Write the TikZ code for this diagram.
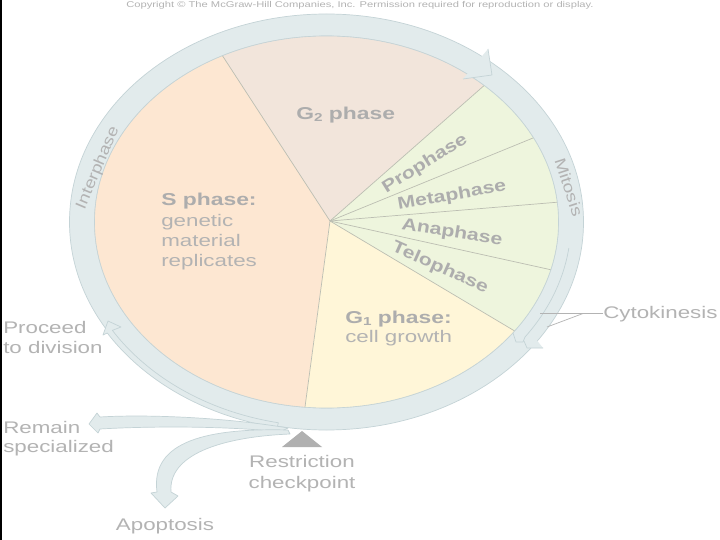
\documentclass[tikz,border=0pt]{standalone}
\usepackage{fontspec}
\setmainfont{Liberation Sans}
\usetikzlibrary{calc}
\definecolor{ringfill}{HTML}{E2EBEC}
\definecolor{ringline}{HTML}{C4D3D6}
\definecolor{sfill}{HTML}{FDE7D2}
\definecolor{gtwofill}{HTML}{F2E5DB}
\definecolor{mfill}{HTML}{EEF5DD}
\definecolor{gonefill}{HTML}{FFF6D8}
\definecolor{secline}{HTML}{BCBEB2}
\definecolor{txtgray}{HTML}{B3B3B3}
\definecolor{btxtgray}{HTML}{ADADAD}
\definecolor{trigray}{HTML}{B0B0B0}
\begin{document}
\begin{tikzpicture}[x=1pt,y=-1pt,
  lbl/.style={text=txtgray, font=\fontsize{16.8}{20}\selectfont, inner sep=0pt, xscale=1.33},
  blbl/.style={text=btxtgray, font=\fontsize{17.2}{20}\selectfont\bfseries, inner sep=0pt, xscale=1.33},
  rlbl/.style={text=txtgray, font=\fontsize{15.5}{18}\selectfont, inner sep=0pt},
  rblbl/.style={text=btxtgray, font=\fontsize{17}{20}\selectfont\bfseries, inner sep=0pt},
  band/.style={fill=ringfill, draw=ringline, line width=0.7pt, line join=round},
  secl/.style={draw=secline, line width=0.7pt}]
\useasboundingbox (0,0) rectangle (720,540);
\fill[white] (0,0) rectangle (720,540);
\draw[black, line width=1.5pt] (0.75,0) -- (0.75,540);

% copyright
\node[text=txtgray, font=\fontsize{8.4}{10}\selectfont, inner sep=0pt, xscale=1.33] (copy) at (360,5) {Copyright \textcopyright{} The McGraw-Hill Companies, Inc. Permission required for reproduction or display.};

% ring
\coordinate (C) at (326.5,222);
\filldraw[band, even odd rule] (C) ellipse [x radius=257, y radius=208] (C) ellipse [x radius=232, y radius=186];

% pie
\coordinate (P) at (330,221);
\coordinate (A) at (222,55);
\coordinate (B) at (487,83);
\coordinate (Cc) at (533,138);
\coordinate (D) at (560,202);
\coordinate (E) at (552,270);
\coordinate (F) at (513,330);
\coordinate (G) at (305,407);
\begin{scope}
\clip (C) ellipse [x radius=232, y radius=186];
\fill[sfill] (P) -- ($(P)!3!(A)$) -- (-600,-300) -- (-600,800) -- ($(P)!3!(G)$) -- cycle;
\fill[gtwofill] (P) -- ($(P)!3!(A)$) -- (330,-400) -- ($(P)!3!(B)$) -- cycle;
\fill[mfill] (P) -- ($(P)!3!(B)$) -- (1100,221) -- ($(P)!3!(F)$) -- cycle;
\fill[gonefill] (P) -- ($(P)!3!(F)$) -- (600,900) -- ($(P)!3!(G)$) -- cycle;
\foreach \q in {A,B,Cc,D,E,F,G} \draw[secl] (P) -- ($(P)!1.1!(\q)$);
\end{scope}
\draw[ringline, line width=0.6pt] (C) ellipse [x radius=232, y radius=186];

% interphase arrowhead (top right)
\fill[ringfill] (488,49) -- (492,75) -- (463,79) -- cycle;
\draw[ringline, line width=0.7pt, line join=round] (488,49) -- (492,75) -- (463,79);

% cytokinesis lanes
\draw[ringline, line width=0.7pt] ([shift={(C)}]7.6:244.5 and 197) arc[start angle=7.6, end angle=35.7, x radius=244.5, y radius=197];
\draw[ringline, line width=0.7pt, line join=round] (513,333) -- (516,342) -- (523,342) -- (525,337);
\fill[ringfill] (525,341) -- (528,348) -- (543,348) -- (535,338) -- cycle;
\draw[ringline, line width=0.7pt, line join=round] (524,341) -- (527,348) -- (543,348);

% proceed to division
\filldraw[band] ([shift={(C)}]101:258.5 and 209.5) arc[start angle=101, end angle=148, x radius=258.5, y radius=209.5]
  -- (103,335) -- (108,321) -- (121,327)
  -- ([shift={(C)}]148:252.5 and 204.5) arc[start angle=148, end angle=101, x radius=252.5, y radius=204.5] -- cycle;

% remain specialized
\filldraw[band] (288,428) .. controls (230,418) and (150,414) .. (100,417) -- (97,413) -- (89,424) -- (98,433) -- (100,429)
  .. controls (150,426) and (230,426) .. (280,432) -- cycle;

% apoptosis
\filldraw[band] (288,430) .. controls (210,428) and (150,440) .. (157,492) -- (151,493) -- (165,508) -- (178,496) -- (171,492)
  .. controls (168,455) and (220,437) .. (290,434) -- cycle;

% restriction checkpoint
\fill[trigray] (302,431) -- (322,447) -- (282,447) -- cycle;

% labels
\node[blbl, anchor=base west] (g2) at (296,119.5) {G\raisebox{-2.5pt}{\fontsize{11.5}{11.5}\selectfont 2} phase};
\node[blbl, anchor=base west] (s1) at (161,206) {S phase:};
\node[lbl, anchor=base west] (s2) at (161,226) {genetic};
\node[lbl, anchor=base west] (s3) at (161,246) {material};
\node[lbl, anchor=base west] (s4) at (161,266) {replicates};
\node[blbl, anchor=base west] (g1a) at (345,323) {G\raisebox{-2.5pt}{\fontsize{11.5}{11.5}\selectfont 1} phase:};
\node[lbl, anchor=base west] (g1b) at (345,342) {cell growth};
\node[rblbl, rotate=32, xscale=1.25] (pro) at (425,164) {Prophase};
\node[rblbl, rotate=10, xscale=1.25] (meta) at (452,196) {Metaphase};
\node[rblbl, rotate=-9, xscale=1.25] (ana) at (452,233) {Anaphase};
\node[rblbl, rotate=-24, xscale=1.25] (telo) at (440,268) {Telophase};
\node[rlbl, rotate=67, xscale=1.2] (inter) at (98,168) {Interphase};
\node[rlbl, rotate=-72, xscale=1.25] (mit) at (569,187) {Mitosis};
\node[lbl, anchor=base west] (cyto) at (603,318) {Cytokinesis};
\coordinate (cy1) at (540,313);
\coordinate (cy2) at (547,327);
\coordinate (cyj) at (583,313.5);
\draw[txtgray, line width=0.7pt] (cyto.west |- cy1) -- (cy1);
\draw[txtgray, line width=0.7pt] (cyj) -- (cy2);
\node[lbl, anchor=base west] (pr1) at (3,333) {Proceed};
\node[lbl, anchor=base west] (pr2) at (3,353) {to division};
\node[lbl, anchor=base west] (re1) at (3,433) {Remain};
\node[lbl, anchor=base west] (re2) at (3,452) {specialized};
\node[lbl, anchor=base] (rc1) at (302,467) {Restriction};
\node[lbl, anchor=base] (rc2) at (302,488) {checkpoint};
\node[lbl, anchor=base] (apo) at (165,530) {Apoptosis};
\end{tikzpicture}
\end{document}
